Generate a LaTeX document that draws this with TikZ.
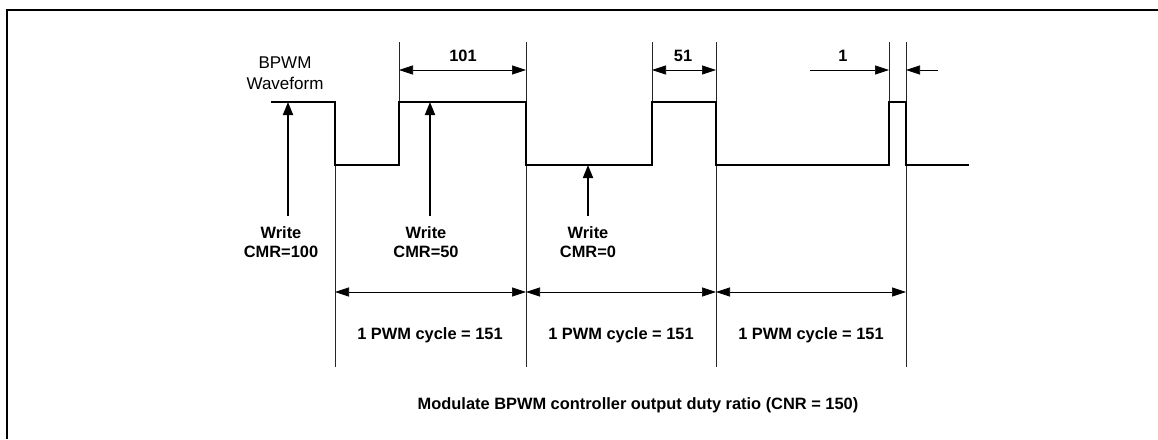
\documentclass[tikz,border=0pt]{standalone}
\usepackage{fontspec}
\setmainfont{Liberation Sans}
\usetikzlibrary{arrows.meta}
\begin{document}
\begin{tikzpicture}[x=1pt,y=-1pt,
  frame/.style={line width=2.2pt},
  wave/.style={line width=1.8pt, line join=miter},
  guide/.style={line width=0.7pt, black!85},
  dim/.style={line width=0.7pt, {Triangle[length=14pt,width=9pt]}-{Triangle[length=14pt,width=9pt]}},
  dimr/.style={line width=0.7pt, -{Triangle[length=14pt,width=9pt]}},
  wr/.style={line width=1.8pt, -{Triangle[length=13pt,width=10pt]}},
  lbl/.style={font=\fontsize{16.4}{19}\selectfont\bfseries, inner sep=0pt, align=center},
  reg/.style={font=\fontsize{17}{21}\selectfont, inner sep=0pt, align=center}]
\useasboundingbox (0,0) rectangle (1158,439);
% frame
\draw[frame] (7,439) -- (7,10) -- (1158,10);
% guides
\draw[guide] (399,42) -- (399,102);
\draw[guide] (652,42) -- (652,102);
\draw[guide] (889,42) -- (889,102);
\draw[guide] (526,42) -- (526,367);
\draw[guide] (716,42) -- (716,367);
\draw[guide] (906,42) -- (906,367);
\draw[guide] (335,165) -- (335,367);
% waveform
\draw[wave] (271,102) -- (335,102) -- (335,165) -- (399,165) -- (399,102) -- (526,102) -- (526,165) -- (652,165) -- (652,102) -- (716,102) -- (716,165) -- (889,165) -- (889,102) -- (906,102) -- (906,165) -- (969,165);
\node[reg] (bw) at (285,73) {BPWM\\Waveform};
% top dimensions
\coordinate (t1a) at (399,70); \coordinate (t1b) at (526,70);
\coordinate (t2a) at (652,70); \coordinate (t2b) at (716,70);
\coordinate (t3a) at (810,70); \coordinate (t3b) at (889,70);
\coordinate (t4a) at (938,70); \coordinate (t4b) at (906,70);
\draw[dim] (t1a) -- (t1b);
\draw[dim] (t2a) -- (t2b);
\draw[dimr] (t3a) -- (t3b);
\draw[dimr] (t4a) -- (t4b);
\node[lbl] (d101) at (463,56) {101};
\node[lbl] (d51) at (683,56) {51};
\node[lbl] (d1) at (843,56) {1};
% write arrows
\node[lbl] (w1) at (281,242) {Write\\CMR=100};
\node[lbl] (w2) at (426,242) {Write\\CMR=50};
\node[lbl] (w3) at (588,242) {Write\\CMR=0};
\coordinate (w1s) at (288,216); \coordinate (w1e) at (288,102);
\coordinate (w2s) at (430,216); \coordinate (w2e) at (430,102);
\coordinate (w3s) at (588,216); \coordinate (w3e) at (588,165);
\draw[wr] (w1s) -- (w1e);
\draw[wr] (w2s) -- (w2e);
\draw[wr] (w3s) -- (w3e);
% cycle dimensions
\coordinate (c0) at (335,292); \coordinate (c1) at (526,292);
\coordinate (c2) at (716,292); \coordinate (c3) at (906,292);
\draw[dim] (c0) -- (c1);
\draw[dim] (c1) -- (c2);
\draw[dim] (c2) -- (c3);
\node[lbl] (p1) at (430,335) {1 PWM cycle = 151};
\node[lbl] (p2) at (621,335) {1 PWM cycle = 151};
\node[lbl] (p3) at (811,335) {1 PWM cycle = 151};
\node[lbl] (cap) at (638,405) {Modulate BPWM controller output duty ratio (CNR = 150)};
\end{tikzpicture}
\end{document}
